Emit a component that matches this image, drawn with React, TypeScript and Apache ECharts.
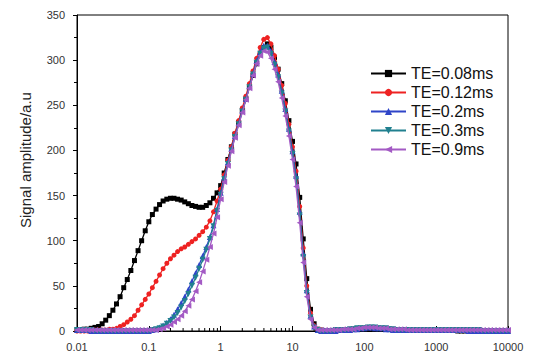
import React, { useEffect, useRef } from 'react';
import * as echarts from 'echarts';

// T2 relaxation times (ms), log-spaced grid
const t2Times = [
  0.01, 0.0112, 0.0126, 0.0141, 0.0158, 0.0178, 0.02, 0.0224, 0.0251, 0.0282, 0.0316, 0.0355, 0.0398, 0.0447, 0.0501, 0.0562, 0.0631, 0.0708, 0.0794, 0.0891,
  0.1, 0.112, 0.126, 0.141, 0.158, 0.178, 0.2, 0.224, 0.251, 0.282, 0.316, 0.355, 0.398, 0.447, 0.501, 0.562, 0.631, 0.708, 0.794, 0.891,
  1, 1.12, 1.26, 1.41, 1.58, 1.78, 2, 2.24, 2.51, 2.82, 3.16, 3.55, 3.98, 4.47, 5.01, 5.62, 6.31, 7.08, 7.94, 8.91,
  10, 11.2, 12.6, 14.1, 15.8, 17.8, 20, 22.4, 25.1, 28.2, 31.6, 35.5, 39.8, 44.7, 50.1, 56.2, 63.1, 70.8, 79.4, 89.1,
  100, 112, 126, 141, 158, 178, 200, 224, 251, 282, 316, 355, 398, 447, 501, 562, 631, 708, 794, 891,
  1000, 1120, 1260, 1410, 1580, 1780, 2000, 2240, 2510, 2820, 3160, 3550, 3980, 4470, 5010, 5620, 6310, 7080, 7940, 8910,
  10000,
];

const te008 = [
  1, 1, 2, 2, 3, 4, 5, 8, 12, 17,
  23, 30, 38, 48, 57, 67, 78, 89, 100, 111,
  121, 129, 135, 140, 144, 146, 147, 147, 146, 145,
  143, 141, 139, 138, 137, 137, 139, 142, 147, 153,
  161, 175, 190, 204, 218, 231, 244, 257, 270, 283,
  296, 306, 314, 318, 314, 303, 290, 274, 255, 233,
  210, 185, 148, 102, 58, 24, 8, 2, 1,
  0, 0, 0, 0, 1, 1, 1, 1, 2,
  2, 3, 3, 3, 3, 3, 3, 2, 2, 2, 1, 1, 1,
  1, 1, 1, 1, 1, 1, 1, 1, 1, 1, 1, 1, 1, 1, 1, 0, 0, 0, 0, 0, 0, 0, 0, 0, 0, 0, 0, 0, 0, 0,
];

const te012 = [
  0, 0, 0, 0, 0, 1, 1, 1, 1, 2,
  2, 3, 5, 7, 10, 13, 17, 23, 29, 35,
  41, 48, 55, 62, 69, 75, 80, 84, 88, 91,
  93, 96, 99, 102, 106, 110, 115, 122, 132, 144,
  157, 173, 189, 204, 219, 233, 247, 260, 274, 288,
  302, 314, 323, 325, 318, 305, 290, 272, 252, 229,
  204, 177, 138, 92, 50, 20, 6, 2, 1,
  0, 0, 0, 1, 1, 1, 1, 2, 2,
  3, 3, 3, 4, 4, 3, 3, 3, 2, 2, 2, 1, 1,
  1, 1, 1, 1, 1, 1, 1, 1, 1, 1, 1, 1, 1, 1, 1, 1, 1, 1, 1, 1, 0, 0, 0, 0, 0, 0, 0, 0, 0, 0,
];

const te02 = [
  1, 1, 1, 1, 0, 0, 0, 0, 0, 0,
  0, 0, 0, 0, 0, 0, 0, 0, 0, 0,
  0, 1, 2, 4, 6, 9, 13, 18, 24, 31,
  38, 46, 55, 64, 73, 83, 93, 104, 117, 135,
  153, 170, 187, 202, 216, 230, 244, 257, 271, 285,
  299, 309, 316, 316, 310, 298, 284, 266, 246, 224,
  199, 172, 132, 86, 45, 17, 5, 1, 0,
  0, 0, 0, 0, 1, 1, 1, 1, 2,
  2, 3, 3, 4, 4, 3, 3, 3, 2, 2, 1, 1, 1,
  1, 1, 1, 1, 1, 1, 1, 1, 1, 1, 1, 1, 1, 1, 1, 1, 1, 1, 0, 0, 0, 0, 0, 0, 0, 0, 0, 0, 0, 0,
];

const te03 = [
  1, 1, 1, 1, 1, 0, 0, 0, 0, 0,
  0, 0, 0, 0, 0, 0, 0, 0, 0, 0,
  0, 1, 2, 3, 5, 8, 11, 15, 20, 26,
  33, 41, 50, 59, 69, 79, 90, 102, 116, 133,
  151, 168, 185, 200, 215, 229, 243, 256, 270, 284,
  297, 307, 313, 314, 307, 295, 281, 263, 243, 221,
  196, 168, 128, 82, 42, 15, 4, 1, 0,
  0, 0, 0, 1, 1, 1, 1, 2, 2,
  3, 3, 3, 4, 4, 4, 3, 3, 3, 2, 2, 1, 1,
  1, 1, 1, 1, 1, 1, 1, 1, 1, 1, 1, 1, 1, 1, 1, 1, 1, 1, 1, 1, 1, 1, 0, 0, 0, 0, 0, 0, 0, 0,
];

const te09 = [
  1, 1, 1, 1, 1, 1, 1, 1, 1, 1,
  1, 1, 1, 1, 1, 1, 1, 1, 1, 1,
  1, 1, 1, 2, 3, 5, 7, 10, 13, 17,
  22, 28, 35, 44, 54, 66, 79, 93, 108, 126,
  146, 165, 183, 199, 214, 228, 242, 256, 269, 283,
  296, 305, 310, 309, 302, 290, 276, 258, 238, 216,
  190, 160, 120, 76, 38, 13, 4, 1, 1,
  1, 1, 1, 1, 1, 2, 2, 2, 2,
  3, 3, 4, 4, 4, 4, 3, 3, 3, 2, 2, 2, 2,
  2, 1, 1, 1, 1, 1, 1, 1, 1, 1, 1, 1, 1, 1, 1, 1, 1, 1, 1, 1, 1, 1, 1, 1, 1, 1, 1, 1, 1, 1,
];

const seriesNames = ['TE=0.08ms', 'TE=0.12ms', 'TE=0.2ms', 'TE=0.3ms', 'TE=0.9ms'];
const seriesValues = [te008, te012, te02, te03, te09];
const seriesColors = ['#000000', '#ee2222', '#2f45c8', '#21808f', '#a35ac4'];
const seriesSymbols = ['rect', 'circle', 'triangle', 'triangle', 'triangle'];
const seriesRotate = [0, 0, 0, 180, 90];

const xTickLabels = ['0.01', '0.1', '1', '10', '100', '1000', '10000'];
const yTickLabels = ['0', '50', '100', '150', '200', '250', '300', '350'];

const FONT = 'Liberation Sans, Arial, sans-serif';

export default function App() {
  const ref = useRef<HTMLDivElement>(null);

  useEffect(() => {
    const chart = echarts.init(ref.current as HTMLDivElement, null, { renderer: 'svg' });

    const series = seriesNames.map((name, k) => ({
      name,
      type: 'line',
      data: t2Times.map((x, i) => [x, seriesValues[k][i]]),
      symbol: seriesSymbols[k],
      symbolSize: k < 2 ? 5 : 6,
      symbolRotate: seriesRotate[k],
      showSymbol: true,
      lineStyle: { color: seriesColors[k], width: 1.3 },
      itemStyle: { color: seriesColors[k] },
      z: 2 + k,
    }));

    chart.setOption({
      animation: false,
      backgroundColor: '#ffffff',
      grid: {
        left: 77,
        right: 26,
        top: 15,
        bottom: 25,
        show: true,
        borderColor: '#000',
        borderWidth: 1,
        backgroundColor: 'transparent',
      },
      legend: {
        data: seriesNames,
        orient: 'vertical',
        left: 370,
        top: 65.5,
        padding: 0,
        itemWidth: 35,
        itemHeight: 9,
        itemGap: 3,
        textStyle: { fontFamily: FONT, fontSize: 16, color: '#111', lineHeight: 13 },
      },
      xAxis: {
        type: 'log',
        logBase: 10,
        min: 0.01,
        max: 10000,
        axisLine: { show: true, lineStyle: { color: '#000', width: 1 } },
        axisTick: { show: true, inside: true, length: 5, lineStyle: { color: '#000' } },
        axisLabel: {
          fontFamily: FONT,
          fontSize: 11,
          color: '#333',
          margin: 10,
          formatter: (v: number, i: number) => xTickLabels[i] ?? String(v),
        },
        splitLine: { show: false },
      },
      yAxis: {
        type: 'value',
        min: 0,
        max: 350,
        interval: 50,
        name: 'Signal amplitude/a.u',
        nameLocation: 'middle',
        nameGap: 44,
        nameTextStyle: { fontFamily: FONT, fontSize: 15, color: '#222', padding: [0, 0, 0, 26] },
        axisLine: { show: true, lineStyle: { color: '#000', width: 1 } },
        axisTick: { show: true, length: 4, lineStyle: { color: '#000' } },
        minorTick: { show: true, splitNumber: 2, length: 3, lineStyle: { color: '#000' } },
        axisLabel: {
          fontFamily: FONT,
          fontSize: 11,
          color: '#333',
          margin: 12,
          formatter: (v: number, i: number) => yTickLabels[i] ?? String(v),
        },
        splitLine: { show: false },
      },
      series,
    });

    // log minor ticks (2..9 x 10^k), placed through the axis scale
    const y0 = chart.convertToPixel({ yAxisIndex: 0 }, 0) as number;
    const minor: any[] = [];
    for (let k = -2; k < 4; k++) {
      for (let m = 2; m <= 9; m++) {
        const px = chart.convertToPixel({ xAxisIndex: 0 }, m * Math.pow(10, k)) as number;
        minor.push({
          type: 'line',
          shape: { x1: px, y1: y0, x2: px, y2: y0 - 3 },
          style: { stroke: '#000', lineWidth: 1 },
          z: 1,
        });
      }
    }
    chart.setOption({ graphic: minor });

    return () => chart.dispose();
  }, []);

  return (
    <div
      ref={ref}
      style={{ position: 'fixed', left: 0, top: 0, width: 534, height: 356, background: '#fff' }}
    />
  );
}
